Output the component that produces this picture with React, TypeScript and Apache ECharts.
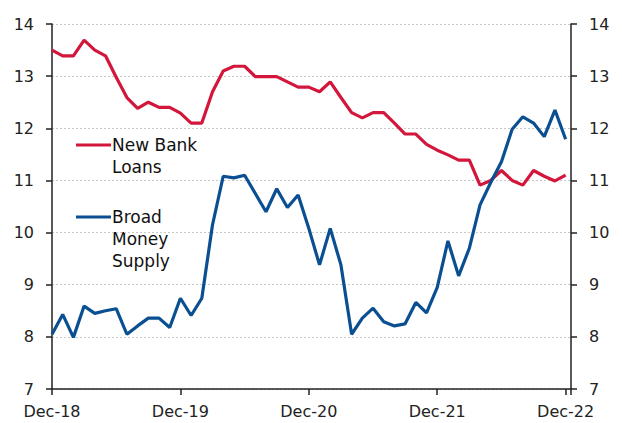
import React, { useEffect, useRef } from "react";
import * as echarts from "echarts";

const tickLabels = ["Dec-18", "Dec-19", "Dec-20", "Dec-21", "Dec-22"];
const seriesNames = ["New Bank Loans", "Broad Money Supply"];
const legendLines = [["New Bank", "Loans"], ["Broad", "Money", "Supply"]];

const newBankLoans = [
  13.5, 13.39, 13.39, 13.69, 13.5, 13.39, 12.98, 12.59, 12.38, 12.5, 12.4, 12.4,
  12.29, 12.1, 12.1, 12.7, 13.1, 13.19, 13.19, 12.99, 12.99, 12.99, 12.89, 12.79,
  12.79, 12.7, 12.89, 12.59, 12.3, 12.2, 12.3, 12.3, 12.1, 11.89, 11.89, 11.69,
  11.58, 11.49, 11.39, 11.39, 10.91, 11.0, 11.19, 11.0, 10.91, 11.19, 11.08, 10.99,
  11.1,
];

const broadMoney = [
  8.05, 8.43, 7.99, 8.59, 8.45, 8.5, 8.54, 8.05, 8.21, 8.36, 8.36, 8.18,
  8.74, 8.41, 8.74, 10.15, 11.08, 11.05, 11.1, 10.75, 10.4, 10.84, 10.48, 10.72,
  10.08, 9.38, 10.08, 9.38, 8.05, 8.36, 8.55, 8.29, 8.21, 8.25, 8.66, 8.46,
  8.95, 9.84, 9.17, 9.7, 10.53, 10.96, 11.36, 11.98, 12.22, 12.1, 11.84, 12.35,
  11.79,
];

const RED = "#d2163c";
const BLUE = "#0a4f92";
const FONT = "DejaVu Sans, sans-serif";

export default function App() {
  const ref = useRef<HTMLDivElement>(null);
  useEffect(() => {
    if (!ref.current) return;
    const chart = echarts.init(ref.current, undefined, { renderer: "svg" });
    const yAxisBase = {
      type: "value",
      min: 7,
      max: 14,
      interval: 1,
      axisLine: { show: true, lineStyle: { color: "#222", width: 1.5 } },
      axisTick: { show: true, length: 6, lineStyle: { color: "#222", width: 1.5 } },
      axisLabel: { color: "#222", fontSize: 16, fontFamily: FONT, margin: 18 },
    };
    const legendColors = [RED, BLUE];
    const legendY = [145, 217];
    const graphic: any[] = [];
    legendLines.forEach((lines, k) => {
      graphic.push({
        type: "line",
        shape: { x1: 76, y1: legendY[k], x2: 111, y2: legendY[k] },
        style: { stroke: legendColors[k], lineWidth: 3.2 },
      });
      lines.forEach((t, j) => {
        graphic.push({
          type: "text",
          x: 112,
          y: legendY[k] + j * 22,
          style: {
            text: t,
            fill: "#111",
            fontSize: 17,
            fontFamily: FONT,
            verticalAlign: "middle",
            align: "left",
          },
        });
      });
    });
    chart.setOption({
      animation: false,
      backgroundColor: "#fff",
      grid: { left: 52, right: 51, top: 24, bottom: 34, containLabel: false },
      xAxis: {
        type: "value",
        min: 0,
        max: 48.5,
        interval: 12,
        axisLine: { show: true, lineStyle: { color: "#222", width: 1.5 } },
        axisTick: { show: true, length: 6, lineStyle: { color: "#222", width: 1.5 } },
        splitLine: { show: false },
        axisLabel: {
          color: "#222",
          fontSize: 16,
          fontFamily: FONT,
          margin: 14,
          formatter: (v: number) => (v % 12 === 0 ? tickLabels[v / 12] ?? "" : ""),
        },
      },
      yAxis: [
        {
          ...yAxisBase,
          position: "left",
          splitLine: { show: true, lineStyle: { color: "#c8c8c8", type: [2, 2], width: 1 } },
        },
        {
          ...yAxisBase,
          position: "right",
          splitLine: { show: false },
        },
      ],
      graphic,
      series: [
        {
          name: seriesNames[0],
          type: "line",
          data: newBankLoans.map((v, i) => [i, v]),
          symbol: "none",
          lineStyle: { color: RED, width: 3.2 },
          z: 3,
        },
        {
          name: seriesNames[1],
          type: "line",
          data: broadMoney.map((v, i) => [i, v]),
          symbol: "none",
          lineStyle: { color: BLUE, width: 3.2 },
          z: 4,
        },
      ],
    });
    return () => chart.dispose();
  }, []);
  return <div ref={ref} style={{ width: 622, height: 423, position: "absolute", left: 0, top: 0 }} />;
}
